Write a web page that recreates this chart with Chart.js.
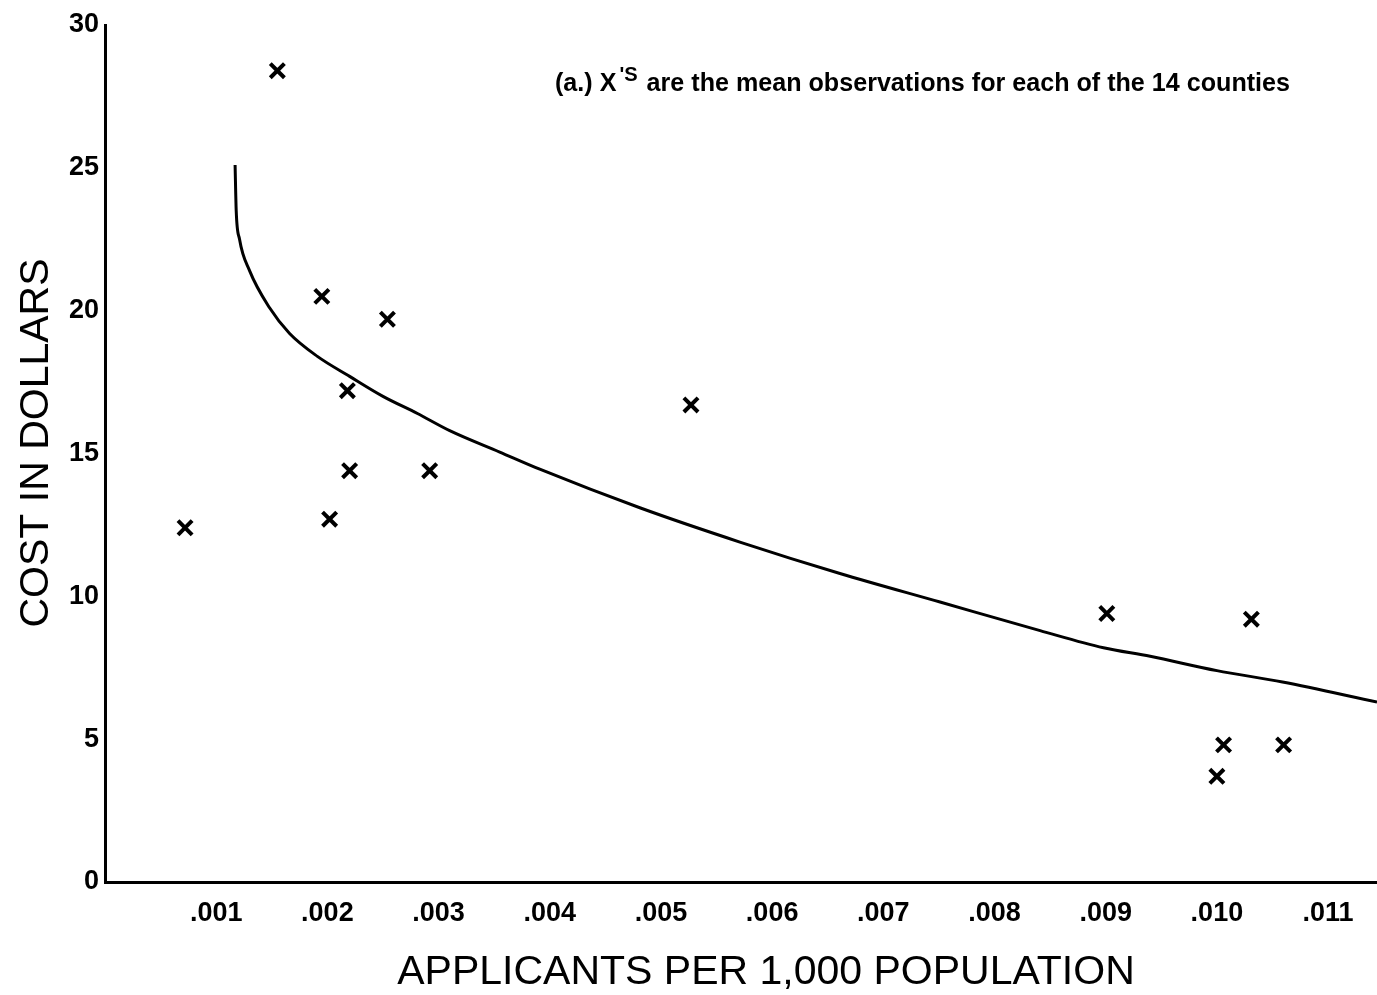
<!DOCTYPE html>
<html>
<head>
<meta charset="utf-8">
<script src="https://cdn.jsdelivr.net/npm/chart.js@4/dist/chart.umd.min.js"></script>
<style>
    body { margin: 0; background: #fff; }
    canvas { display: block; }
</style>
</head>
<body>
<canvas id="myChart" width="1377" height="995"></canvas>
<script>
// mean observations for the 14 counties
var countyApplicants = [0.00072, 0.00155, 0.00195, 0.00202, 0.00218, 0.00220, 0.00254, 0.00292, 0.00527, 0.00901, 0.01031, 0.01006, 0.01060, 0.01000];
var countyCost = [12.4, 28.4, 20.5, 12.7, 17.2, 14.4, 19.7, 14.4, 16.7, 9.4, 9.2, 4.8, 4.8, 3.7];

// fitted cost curve
var curveApplicants = [0.00117, 0.00118, 0.00121, 0.00130, 0.00148, 0.00166, 0.00191, 0.00220, 0.00250, 0.00281, 0.00310, 0.00355, 0.00391, 0.00481, 0.00571, 0.00661, 0.00751, 0.00841, 0.00898, 0.00940, 0.01000, 0.01059, 0.01144];
var curveCost = [25.1, 23.5, 22.5, 21.4, 20.1, 19.2, 18.4, 17.7, 17.0, 16.4, 15.8, 15.05, 14.45, 13.1, 11.9, 10.8, 9.8, 8.8, 8.2, 7.9, 7.4, 7.0, 6.3];

var xTicks = [0.001, 0.002, 0.003, 0.004, 0.005, 0.006, 0.007, 0.008, 0.009, 0.010, 0.011];
var xTickLabels = ['.001', '.002', '.003', '.004', '.005', '.006', '.007', '.008', '.009', '.010', '.011'];
var yTicks = [0, 5, 10, 15, 20, 25, 30];
var xTitle = 'APPLICANTS PER 1,000 POPULATION';
var yTitle = 'COST IN DOLLARS';
var noteStart = '(a.) X';
var noteSup = "'S";
var noteEnd = ' are the mean observations for each of the 14 counties';

function toPoints(xs, ys) {
    var out = [];
    for (var i = 0; i < xs.length; i++) {
        out.push({x: xs[i], y: ys[i]});
    }
    return out;
}

var textPlugin = {
    id: 'texts',
    afterDraw: function (chart) {
        var ctx = chart.ctx;
        ctx.save();
        ctx.fillStyle = '#000';

        ctx.font = '41px "Liberation Sans"';
        ctx.textAlign = 'center';
        ctx.textBaseline = 'middle';
        ctx.fillText(xTitle, 766, 973);

        ctx.save();
        ctx.translate(37, 443);
        ctx.rotate(-Math.PI / 2);
        ctx.fillText(yTitle, 0, 0);
        ctx.restore();

        // note with the raised 'S
        ctx.textAlign = 'left';
        ctx.textBaseline = 'alphabetic';
        var big = 'bold 25px "Liberation Sans"';
        var small = 'bold 20px "Liberation Sans"';
        ctx.font = big;
        var w1 = ctx.measureText(noteStart).width;
        var w3 = ctx.measureText(noteEnd).width;
        ctx.font = small;
        var w2 = ctx.measureText(noteSup).width + 5;
        var sx = 735 / (w1 + w2 + w3);
        ctx.translate(555, 91);
        ctx.scale(sx, 1);
        ctx.font = big;
        ctx.fillText(noteStart, 0, 0);
        ctx.font = small;
        ctx.fillText(noteSup, w1 + 3, -10);
        ctx.font = big;
        ctx.fillText(noteEnd, w1 + w2, 0);
        ctx.restore();
    }
};

var ctx = document.getElementById('myChart').getContext('2d');
var chart = new Chart(ctx, {
    type: 'scatter',
    data: {
        datasets: [{
            label: 'counties',
            data: toPoints(countyApplicants, countyCost),
            pointStyle: 'crossRot',
            pointRadius: 10,
            pointBorderWidth: 4,
            borderColor: '#000',
            backgroundColor: '#000'
        }, {
            label: 'curve',
            data: toPoints(curveApplicants, curveCost),
            showLine: true,
            pointRadius: 0,
            borderColor: '#000',
            borderWidth: 3,
            cubicInterpolationMode: 'monotone'
        }]
    },
    options: {
        responsive: false,
        animation: false,
        layout: {autoPadding: false, padding: {top: 25, right: 0, bottom: 0, left: 0}},
        plugins: {
            legend: {display: false},
            tooltip: {enabled: false}
        },
        scales: {
            x: {
                type: 'linear',
                min: 0,
                max: 0.01144,
                grid: {display: false, drawTicks: false},
                border: {display: true, color: '#000', width: 3},
                afterFit: function (scale) {
                    scale.height = 113;
                    scale.paddingLeft = 0;
                    scale.paddingRight = 0;
                },
                afterBuildTicks: function (scale) {
                    scale.ticks = xTicks.map(function (v) { return {value: v}; });
                },
                ticks: {
                    autoSkip: false,
                    maxRotation: 0,
                    padding: 15,
                    color: '#000',
                    font: {family: 'Liberation Sans', size: 27, weight: 'bold'},
                    callback: function (value, index) {
                        return xTickLabels[index];
                    }
                }
            },
            y: {
                min: 0,
                max: 30,
                grid: {display: false, drawTicks: false},
                border: {display: true, color: '#000', width: 3},
                afterFit: function (scale) {
                    scale.width = 105;
                    scale.paddingTop = 0;
                    scale.paddingBottom = 0;
                },
                afterBuildTicks: function (scale) {
                    scale.ticks = yTicks.map(function (v) { return {value: v}; });
                },
                ticks: {
                    padding: 6,
                    color: '#000',
                    font: {family: 'Liberation Sans', size: 27, weight: 'bold'}
                }
            }
        }
    },
    plugins: [textPlugin]
});
</script>
</body>
</html>
